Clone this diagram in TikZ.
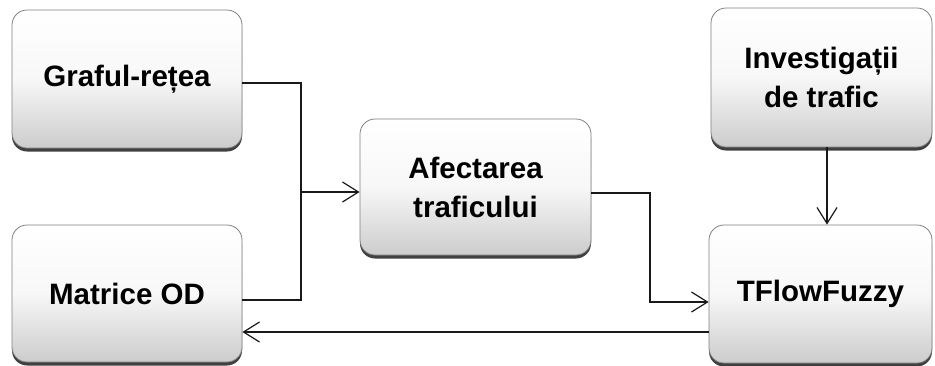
\documentclass[tikz,border=0pt]{standalone}
\usepackage{fontspec}
\setmainfont{Liberation Sans}
\usetikzlibrary{arrows.meta,shadows,calc}
\begin{document}
\begin{tikzpicture}[x=1pt,y=-1pt,
  stage/.style={rectangle, rounded corners=15pt, draw=black!50, line width=0.8pt,
    top color=white, bottom color=black!20, middle color=black!3,
    drop shadow={shadow xshift=0pt, shadow yshift=-3.5pt, fill=black!75, opacity=1},
    align=center, inner sep=0pt,
    font=\fontsize{29.5}{39}\selectfont\bfseries},
  link/.style={line width=1.3pt, black!90},
  tip/.style={-{Straight Barb[length=16pt,width=20pt,line width=1.2pt]}}
]
\useasboundingbox (0,0) rectangle (935,365);

\node[stage, minimum width=230pt, minimum height=138pt] (graf)   at (127,79)    {Graful-rețea};
\node[stage, minimum width=230pt, minimum height=137pt] (od)     at (127,293.5) {Matrice OD};
\node[stage, minimum width=231pt, minimum height=136pt] (afect)  at (475.5,187) {Afectarea\\traficului};
\node[stage, minimum width=221pt, minimum height=139pt] (invest) at (821.5,77.5){\raisebox{-6pt}{\parbox{200pt}{\centering Investigații\\de trafic}}};
\node[stage, minimum width=223pt, minimum height=138pt] (tflow)  at (820.5,294) {TFlowFuzzy};

\coordinate (join) at (301,192);
\coordinate (bend) at (650,193);

% inputs merge and feed the assignment
\draw[link] ([yshift=-4pt]graf.east) -| (join) |- ([yshift=-6.5pt]od.east);
\draw[link,tip] (join) -- (join -| afect.west);

% assignment result into TFlowFuzzy
\draw[link,tip] ([yshift=-6pt]afect.east) -| (bend |- 0,302) -- ([yshift=-8pt]tflow.west);

% traffic surveys into TFlowFuzzy
\draw[link,tip] ([xshift=5.5pt]invest.south) -- ([xshift=5.5pt]invest.south |- tflow.north);

% corrected OD matrix back
\draw[link,tip] ([yshift=-38pt]tflow.west) -- ([yshift=-38.5pt]od.east);
\end{tikzpicture}
\end{document}
